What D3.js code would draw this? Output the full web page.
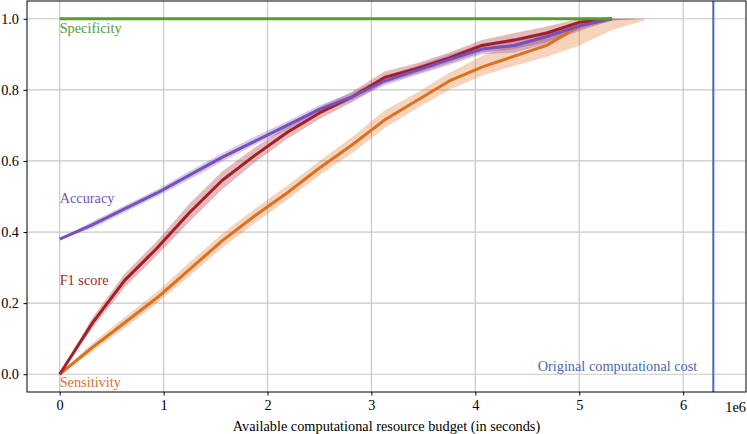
<!DOCTYPE html>
<html>
<head>
<meta charset="utf-8">
<script src="https://cdn.jsdelivr.net/npm/d3@7"></script>
<style>
  html, body { margin: 0; padding: 0; background: #fff; }
  svg { display: block; }
</style>
</head>
<body>
<svg id="chart" width="747" height="434"></svg>
<script>
// ---- data ----
const budgets = [0, 0.3125e6, 0.625e6, 0.9375e6, 1.25e6, 1.5625e6, 1.875e6, 2.1875e6, 2.5e6, 2.8125e6,
                 3.125e6, 3.4375e6, 3.75e6, 4.0625e6, 4.375e6, 4.6875e6, 5.0e6, 5.3125e6];
const bandBudgets = budgets.concat([5.625e6]);

const specificity = [1,1,1,1,1,1,1,1,1,1,1,1,1,1,1,1,1,1];
const accuracy    = [0.38,0.42,0.465,0.51,0.56,0.61,0.655,0.70,0.745,0.78,0.825,0.855,0.885,0.915,0.925,0.95,0.98,1.0];
const f1score     = [0,0.143,0.264,0.355,0.455,0.545,0.615,0.68,0.735,0.78,0.835,0.86,0.89,0.925,0.94,0.96,0.99,1.0];
const sensitivity = [0,0.075,0.145,0.215,0.295,0.375,0.445,0.51,0.58,0.645,0.715,0.77,0.825,0.864,0.895,0.925,0.98,1.0];

const accuracyLow  = [0.38,0.41,0.455,0.5,0.548,0.598,0.645,0.688,0.733,0.77,0.812,0.842,0.87,0.9,0.905,0.93,0.965,0.995,1.0];
const accuracyHigh = [0.38,0.43,0.475,0.52,0.572,0.622,0.668,0.712,0.757,0.792,0.838,0.868,0.9,0.93,0.945,0.965,0.99,1.0,1.0];
const f1Low        = [0,0.128,0.245,0.335,0.43,0.52,0.595,0.662,0.718,0.765,0.818,0.845,0.875,0.905,0.915,0.935,0.97,0.995,1.0];
const f1High       = [0,0.158,0.283,0.375,0.48,0.57,0.637,0.698,0.752,0.795,0.852,0.875,0.905,0.94,0.96,0.978,1.0,1.0,1.0];
const sensLow      = [0,0.063,0.13,0.2,0.277,0.355,0.425,0.49,0.56,0.622,0.692,0.748,0.8,0.84,0.868,0.893,0.925,0.968,0.995];
const sensHigh     = [0,0.087,0.16,0.232,0.315,0.395,0.465,0.53,0.6,0.667,0.742,0.792,0.848,0.895,0.93,0.955,0.99,1.0,1.0];

const originalCost = 6.29e6;
const xTicks = [0, 1e6, 2e6, 3e6, 4e6, 5e6, 6e6];
const yTicks = [0, 0.2, 0.4, 0.6, 0.8, 1.0];
const xLabel = "Available computational resource budget (in seconds)";

// ---- layout ----
const FONT = "Liberation Serif";
const FS = 14.3;
const L = 27, R = 746, T = 1, B = 392;
const svg = d3.select("#chart");
const x = d3.scaleLinear().domain([-0.3145e6, 6.6045e6]).range([L, R]);
const y = d3.scaleLinear().domain([-0.05, 1.05]).range([B, T]);

const colors = {
  spec: "#579a2f",
  acc: "#7650bd",
  f1: "#a51e24",
  sens: "#de6f1f",
  orig: "#4a6aae"
};

// grid
const grid = svg.append("g");
xTicks.forEach(t => grid.append("line")
  .attr("x1", x(t)).attr("x2", x(t)).attr("y1", T).attr("y2", B)
  .attr("stroke", "#c8c8c8").attr("stroke-width", 1.2));
yTicks.forEach(t => grid.append("line")
  .attr("x1", L).attr("x2", R).attr("y1", y(t)).attr("y2", y(t))
  .attr("stroke", "#c8c8c8").attr("stroke-width", 1.2));

// bands
const area = (lo, hi) => d3.area()
  .x((d, i) => x(bandBudgets[i]))
  .y0((d, i) => y(lo[i]))
  .y1((d, i) => y(hi[i]))(lo);
svg.append("path").attr("d", area(sensLow, sensHigh)).attr("fill", colors.sens).attr("fill-opacity", 0.3);
svg.append("path").attr("d", area(f1Low, f1High)).attr("fill", colors.f1).attr("fill-opacity", 0.3);
svg.append("path").attr("d", area(accuracyLow, accuracyHigh)).attr("fill", colors.acc).attr("fill-opacity", 0.3);

// lines
const line = vals => d3.line().x((d, i) => x(budgets[i])).y(d => y(d))(vals);
[[sensitivity, colors.sens], [f1score, colors.f1], [accuracy, colors.acc], [specificity, colors.spec]]
  .forEach(([vals, c]) => svg.append("path").attr("d", line(vals))
    .attr("fill", "none").attr("stroke", c).attr("stroke-width", 3).attr("stroke-linejoin", "round"));

// original cost line
svg.append("line").attr("x1", x(originalCost)).attr("x2", x(originalCost)).attr("y1", T).attr("y2", B)
  .attr("stroke", colors.orig).attr("stroke-width", 2);

// axes
const xAxis = svg.append("g").attr("transform", `translate(0,${B})`)
  .call(d3.axisBottom(x).tickValues(xTicks).tickFormat(d => d / 1e6).tickSize(3.5).tickPadding(4.5).tickSizeOuter(0));
const yAxis = svg.append("g").attr("transform", `translate(${L},0)`)
  .call(d3.axisLeft(y).tickValues(yTicks).tickFormat(d3.format(".1f")).tickSize(3.5).tickPadding(4.5).tickSizeOuter(0));
[xAxis, yAxis].forEach(a => {
  a.select(".domain").remove();
  a.selectAll("text").style("font-family", FONT).style("font-size", FS + "px").attr("fill", "#000");
  a.selectAll("line").attr("stroke", "#000").attr("stroke-width", 1);
});

// spines
svg.append("rect").attr("x", L).attr("y", T).attr("width", R - L).attr("height", B - T)
  .attr("fill", "none").attr("stroke", "#000").attr("stroke-width", 1);

// labels
const lab = (txt, xx, yy, c, anchor) => svg.append("text").text(txt)
  .attr("x", xx).attr("y", yy).attr("fill", c)
  .style("font-family", FONT).style("font-size", FS + "px")
  .attr("text-anchor", anchor || "start");
lab("Specificity", x(0), 33, colors.spec);
lab("Accuracy", x(0), 203, colors.acc);
lab("F1 score", x(0), 285, colors.f1);
lab("Sensitivity", x(0), 387, colors.sens);
lab("Original computational cost", x(originalCost) - 16, 371, colors.orig, "end");
lab("1e6", R, 412, "#000", "end");
lab(xLabel, (L + R) / 2, 431, "#000", "middle");
</script>
</body>
</html>
